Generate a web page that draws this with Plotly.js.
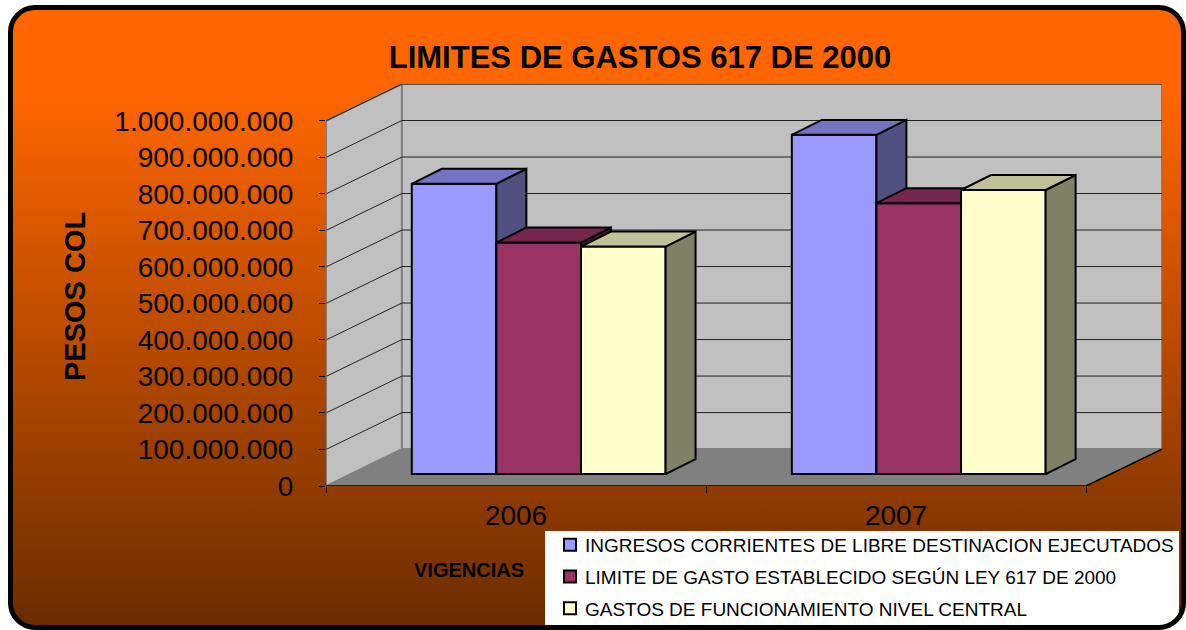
<!DOCTYPE html>
<html>
<head>
<meta charset="utf-8">
<script src="https://cdn.plot.ly/plotly-3.0.1.min.js"></script>
<style>
html,body{margin:0;padding:0;background:#fff;width:1186px;height:630px;overflow:hidden}
#frame{position:absolute;left:8px;top:5px;width:1178px;height:625px;box-sizing:border-box;border:5px solid #000;border-radius:27px;overflow:hidden;
background:linear-gradient(to bottom,#FF6600 0,#FF6600 13%,#6B2C00 100%)}
#chart{position:absolute;left:-13px;top:-10px;width:1186px;height:630px}
.legend .legendsymbols{transform:translate(5px,0)}
.legend .scrollbox{transform:translate(0,-5px)}
</style>
</head>
<body>
<div id="frame"><div id="chart"></div></div>
<script>
const years = ['2006', '2007'];
const ingresos = [795000000, 929000000];
const limite = [634000000, 742000000];
const gastos = [623000000, 778000000];
const seriesNames = [
  'INGRESOS CORRIENTES DE LIBRE DESTINACION EJECUTADOS',
  'LIMITE DE GASTO ESTABLECIDO SEGÚN LEY 617 DE 2000',
  'GASTOS DE FUNCIONAMIENTO NIVEL CENTRAL'
];
const yTickVals = [0,100000000,200000000,300000000,400000000,500000000,600000000,700000000,800000000,900000000,1000000000];
const yTickText = ['0','100.000.000','200.000.000','300.000.000','400.000.000','500.000.000','600.000.000','700.000.000','800.000.000','900.000.000','1.000.000.000'];
const frontColors = ['#9999FF', '#993366', '#FFFFCC'];
const topColors = ['#7474C2', '#74264D', '#C0C099'];
const sideColors = ['#4F4F80', '#4D1A33', '#808066'];

// oblique projection, expressed in axis units
const catPx = 380.5, valPx = 366 / 1e9;
const wallDx = 76 / catPx, wallDy = 37 / valPx;
const floorDx = 22.7 / catPx, floorDy = 12 / valPx;
const barW = 84.7 / catPx, barDx = 30 / catPx, barDy = 15 / valPx;
const xMax = 2 + wallDx, yMax = 1e9 + wallDy;
const series = [ingresos, limite, gastos];

// pixel helpers for items placed on the paper
const plotL = 326, plotW = 836, plotB = 486, plotH = 402;
const px = v => (v - plotL) / plotW;
const py = v => (plotB - v) / plotH;

const traces = [];
function poly(xs, ys, fill, line, lw, axes) {
  traces.push(Object.assign({type:'scatter', mode:'lines', x:xs, y:ys, fill:'toself', fillcolor:fill,
    line:{color:line, width:lw}, showlegend:false, hoverinfo:'skip', cliponaxis:false}, axes || {}));
}
function seg(xs, ys, color, width) {
  traces.push({type:'scatter', mode:'lines', x:xs, y:ys, line:{color:color, width:width},
    showlegend:false, hoverinfo:'skip', cliponaxis:false});
}
// walls and floor
poly([0, wallDx, wallDx, 0, 0], [0, wallDy, yMax, 1e9, 0], '#C0C0C0', '#808080', 2);
poly([wallDx, xMax, xMax, wallDx, wallDx], [wallDy, wallDy, yMax, yMax, wallDy], '#C0C0C0', '#808080', 2);
poly([0, 2, xMax, wallDx, 0], [0, 0, wallDy, wallDy, 0], '#808080', '#808080', 1);
// gridlines
yTickVals.slice(1).forEach(v => seg([0, wallDx, xMax], [v, v + wallDy, v + wallDy], '#222222', 1));
// axis lines
seg([0, 0], [0, 1e9], '#808080', 1);
seg([0, 2, xMax], [0, 0, wallDy], '#000000', 1.5);

// one overlaid axis pair per series so each series paints over the previous one
series.forEach((vals, i) => {
  const n = i + 2;
  const axes = {xaxis:'x' + n, yaxis:'y' + n};
  const centers = years.map((_, c) => c + 0.5 + floorDx + (i - 1) * barW);
  traces.push(Object.assign({type:'bar', name:seriesNames[i], x:centers, y:vals, base:floorDy, width:barW,
    marker:{color:frontColors[i], line:{color:'#000', width:2}}, legendgroup:'s' + i, hoverinfo:'skip'}, axes));
  const sx = [], sy = [], tx = [], ty = [];
  vals.forEach((v, c) => {
    const x0 = centers[c] - barW / 2, x1 = centers[c] + barW / 2, b = floorDy, t = floorDy + v;
    sx.push(x1, x1 + barDx, x1 + barDx, x1, x1, null);
    sy.push(b, b + barDy, t + barDy, t, b, null);
    tx.push(x0, x1, x1 + barDx, x0 + barDx, x0, null);
    ty.push(t, t, t + barDy, t + barDy, t, null);
  });
  poly(sx, sy, sideColors[i], '#000', 2, axes);
  poly(tx, ty, topColors[i], '#000', 2, axes);
});

const hidden = {visible:false, fixedrange:true};
const font = '"Liberation Sans", Arial, sans-serif';
const layout = {
  width:1186, height:630, paper_bgcolor:'rgba(0,0,0,0)', plot_bgcolor:'rgba(0,0,0,0)',
  margin:{l:326, r:24, t:84, b:144, pad:0, autoexpand:false},
  font:{family:font, color:'#000'},
  barmode:'overlay',
  title:{text:'LIMITES DE GASTOS 617 DE 2000', font:{family:font, size:31, weight:700, color:'#000'},
    x:640/1186, xanchor:'center', xref:'container', y:1-57/630, yanchor:'middle', yref:'container'},
  xaxis:{range:[0,xMax], tickmode:'array', tickvals:[0.5,1.5], ticktext:years, ticks:'', showgrid:false, zeroline:false, showline:false,
    tickfont:{size:28, family:font}, ticklabelstandoff:10, fixedrange:true,
    minor:{tickmode:'array', tickvals:[0,1,2], ticks:'outside', ticklen:6, tickcolor:'#000', tickwidth:1, showgrid:false}},
  yaxis:{range:[0,yMax], tickmode:'array', tickvals:yTickVals, ticktext:yTickText, ticks:'outside', ticklen:6, tickcolor:'#000', tickwidth:1,
    showgrid:false, zeroline:false, showline:false, tickfont:{size:28, family:font}, ticklabelstandoff:20, fixedrange:true},
  xaxis2:Object.assign({overlaying:'x', range:[0,xMax]}, hidden), yaxis2:Object.assign({overlaying:'y', range:[0,yMax]}, hidden),
  xaxis3:Object.assign({overlaying:'x', range:[0,xMax]}, hidden), yaxis3:Object.assign({overlaying:'y', range:[0,yMax]}, hidden),
  xaxis4:Object.assign({overlaying:'x', range:[0,xMax]}, hidden), yaxis4:Object.assign({overlaying:'y', range:[0,yMax]}, hidden),
  legend:{x:px(545), xanchor:'left', y:py(531), yanchor:'top', bgcolor:'#FFFFFF', borderwidth:0, orientation:'v',
    font:{size:19, family:font, color:'#000'}, tracegroupgap:4, traceorder:'grouped',
    entrywidth:635, entrywidthmode:'pixels', itemclick:false, itemdoubleclick:false},
  annotations:[
    {text:'PESOS COL', xref:'paper', yref:'paper', x:px(75), y:py(297), xanchor:'center', yanchor:'middle', textangle:-90,
      showarrow:false, font:{family:font, size:29, weight:700, color:'#000'}},
    {text:'VIGENCIAS', xref:'paper', yref:'paper', x:px(469), y:py(570), xanchor:'center', yanchor:'middle',
      showarrow:false, font:{family:font, size:20, weight:700, color:'#000'}}
  ]
};
Plotly.newPlot('chart', traces, layout, {displayModeBar:false, responsive:false});
</script>
</body>
</html>
